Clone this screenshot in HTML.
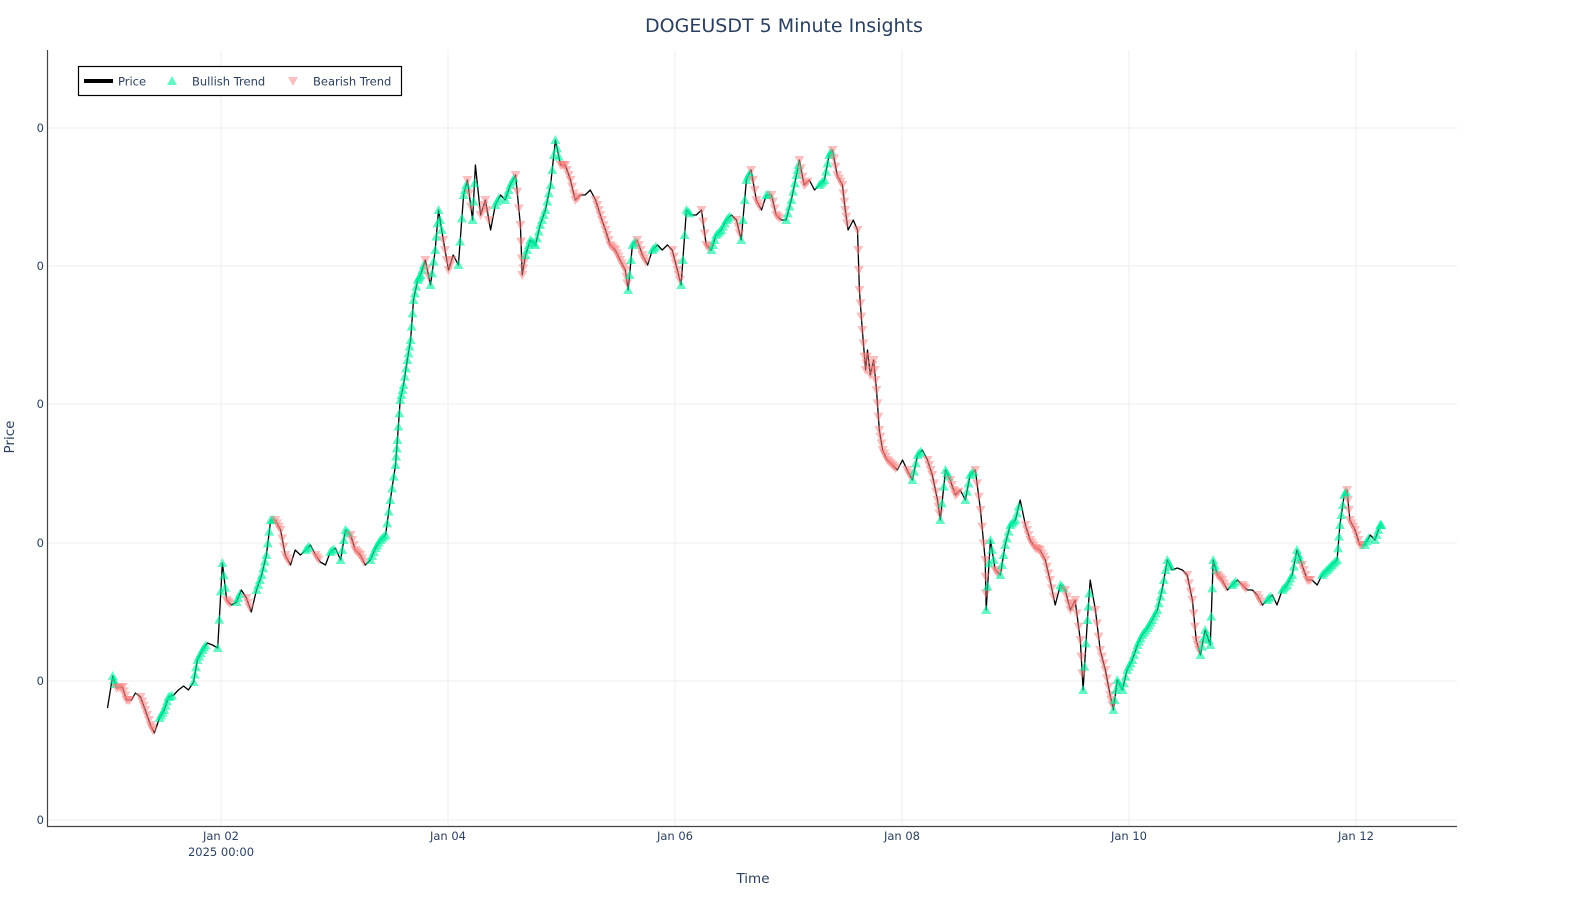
<!DOCTYPE html>
<html><head><meta charset="utf-8">
<style>
html,body{margin:0;padding:0;background:#fff;overflow:hidden;width:1577px;height:900px;}
svg{display:block;font-family:"DejaVu Sans","Liberation Sans",sans-serif;}
</style></head>
<body>
<svg id="chart" width="1577" height="900" viewBox="0 0 1577 900" xmlns="http://www.w3.org/2000/svg">
  <rect x="0" y="0" width="1577" height="900" fill="#fff"/>
  <g id="grid"></g>
  <g id="series"></g>
  <line x1="47.5" y1="50" x2="47.5" y2="826.5" stroke="#444" stroke-width="1.2"/>
  <line x1="47" y1="826.5" x2="1457" y2="826.5" stroke="#444" stroke-width="1.2"/>
  <g id="axes" font-size="11.5" fill="#2a3f5f"></g>
  <text x="784" y="32" text-anchor="middle" font-size="19" fill="#2a3f5f">DOGEUSDT 5 Minute Insights</text>
  <text x="753" y="883" text-anchor="middle" font-size="13.5" fill="#2a3f5f">Time</text>
  <text transform="translate(14,437) rotate(-90)" text-anchor="middle" font-size="13.5" fill="#2a3f5f">Price</text>
  <g>
    <rect x="78.5" y="66.5" width="323" height="29" fill="#fff" stroke="#000" stroke-width="1.2"/>
    <g>
      <line x1="84" y1="81" x2="113" y2="81" stroke="#000" stroke-width="4"/>
      <text x="118" y="85.5" font-size="11.5" fill="#2a3f5f">Price</text>
    </g>
    <g>
      <polygon points="167,85 177,85 172,76" fill="rgba(0,240,160,0.6)"/>
      <text x="192" y="85.5" font-size="11.5" fill="#2a3f5f">Bullish Trend</text>
    </g>
    <g>
      <polygon points="288,77 298,77 293,86" fill="rgba(250,128,128,0.5)"/>
      <text x="313" y="85.5" font-size="11.5" fill="#2a3f5f">Bearish Trend</text>
    </g>
  </g>
</svg>
<script>
// hours since 2025-01-01 00:00
const hours = [0,1.1,1.9,3.2,4.0,5.1,5.9,7.0,8.0,9.1,9.9,11.0,12.0,12.9,14.0,15.0,16.1,17.1,18.2,19.0,20.1,21.1,22.2,23.3,24.3,25.2,26.2,27.3,28.3,29.4,30.4,31.5,32.6,33.6,34.5,35.5,36.6,37.6,38.7,39.7,40.8,41.9,42.9,44.0,45.0,46.1,47.1,48.2,49.3,50.3,51.4,52.4,53.5,54.5,55.6,56.7,57.7,58.8,59.8,60.9,61.3,61.9,62.6,63.4,64.1,64.7,65.6,66.2,67.2,68.3,69.3,70.0,71.0,72.1,73.1,74.2,75.3,76.1,77.2,77.8,78.9,79.9,81.0,82.0,83.1,84.1,85.2,86.3,87.3,87.7,88.4,89.4,90.5,91.5,92.6,93.7,94.7,95.8,96.8,97.9,98.9,100.0,101.0,102.1,103.2,104.2,105.3,106.3,107.4,108.4,109.5,110.1,111.0,112.0,113.1,114.2,115.2,116.3,117.3,118.4,119.4,120.5,121.3,122.4,123.5,124.5,125.6,126.6,127.7,128.7,129.8,130.9,131.9,133.0,134.0,135.1,136.1,137.2,138.3,139.3,140.4,141.4,142.5,143.5,144.6,145.7,146.3,147.3,148.4,149.5,150.5,151.6,152.6,153.3,154.3,155.4,156.0,156.6,157.7,158.6,159.0,159.6,160.3,160.7,161.3,162.0,162.6,163.2,163.9,164.9,166.0,167.0,168.1,169.1,170.2,171.3,172.3,173.4,174.4,175.5,176.1,177.2,178.2,179.3,180.3,181.4,182.4,183.5,184.6,185.6,185.8,186.7,187.7,188.8,189.8,190.9,192.0,193.0,194.1,195.1,196.2,197.2,198.3,199.3,200.4,201.5,202.5,203.6,204.6,205.7,206.3,207.2,207.8,208.9,209.9,211.0,212.0,212.7,213.5,214.6,215.6,216.7,217.8,218.8,219.9,220.9,222.0,223.0,224.1,225.1,226.2,227.3,228.3,229.4,230.2,231.1,232.1,233.2,233.8,234.7,235.7,236.8,237.8,238.9,240.0,241.0,242.1,243.1,244.2,245.2,246.3,247.3,248.4,249.4,250.5,251.5,252.6,253.7,254.7,255.8,256.8,257.9,258.9,260.0,260.6,261.5,262.1,262.7,263.8,264.8,265.9,267.0,268.0,269.1,269.5];
const prices = [.192,.224,.212,.213,.200,.200,.207,.203,.190,.175,.167,.182,.190,.203,.205,.210,.214,.210,.218,.240,.250,.257,.255,.252,.337,.300,.295,.298,.310,.302,.288,.310,.325,.345,.380,.380,.370,.345,.335,.350,.345,.350,.355,.345,.338,.335,.348,.352,.340,.370,.365,.350,.345,.335,.340,.352,.360,.365,.400,.435,.460,.500,.515,.540,.560,.600,.620,.625,.640,.615,.650,.690,.660,.630,.645,.635,.705,.720,.680,.735,.685,.700,.670,.695,.705,.700,.715,.725,.675,.625,.645,.660,.655,.675,.690,.715,.760,.735,.735,.720,.700,.705,.705,.710,.700,.685,.670,.655,.650,.640,.630,.610,.655,.660,.645,.635,.650,.655,.650,.655,.650,.630,.615,.690,.685,.685,.690,.655,.650,.665,.670,.680,.685,.680,.660,.720,.730,.700,.690,.705,.705,.685,.680,.680,.700,.725,.740,.715,.720,.710,.715,.720,.745,.750,.725,.715,.690,.670,.680,.670,.610,.570,.530,.550,.525,.540,.510,.470,.450,.440,.435,.430,.440,.430,.420,.445,.450,.440,.425,.400,.380,.430,.420,.405,.410,.400,.425,.430,.390,.340,.290,.360,.330,.325,.355,.375,.380,.400,.375,.360,.352,.350,.340,.320,.295,.315,.310,.290,.300,.260,.210,.280,.320,.290,.250,.230,.205,.190,.220,.210,.230,.240,.255,.265,.272,.280,.290,.310,.340,.330,.332,.330,.325,.300,.260,.245,.270,.255,.340,.325,.320,.310,.315,.320,.315,.310,.310,.305,.295,.300,.305,.295,.310,.315,.325,.350,.335,.320,.320,.315,.325,.330,.335,.340,.375,.405,.410,.380,.370,.355,.355,.365,.360,.375,.375];
const xTickHours = [24,72,120,168,216,264];
const xTickLabels = ["Jan 02","Jan 04","Jan 06","Jan 08","Jan 10","Jan 12"];
const yTickValues = [0.080,0.219,0.357,0.496,0.634,0.772];
const yTickLabels = ["0","0","0","0","0","0"];

const NS = "http://www.w3.org/2000/svg";
const X0 = 107.5, PX_PER_HOUR = 113.5/24;
function xs(h){ return X0 + h*PX_PER_HOUR; }
function ys(p){ return 900 - p*1000; }
function mk(tag, attrs, parent){
  const e = document.createElementNS(NS, tag);
  for (const k in attrs) e.setAttribute(k, attrs[k]);
  parent.appendChild(e); return e;
}
const grid = document.getElementById('grid');
const axes = document.getElementById('axes');
const series = document.getElementById('series');

yTickValues.forEach((v,i)=>{
  const y = ys(v);
  const gl = mk('line',{x1:48,x2:1457,y1:y,y2:y,stroke:'#eeeeee','stroke-width':1},grid);
  
  
  const t = mk('text',{x:44,y:y+4,'text-anchor':'end'},axes);
  t.textContent = yTickLabels[i];
  
  
});
xTickHours.forEach((h,i)=>{
  const x = xs(h);
  const gl = mk('line',{x1:x,x2:x,y1:50,y2:826,stroke:'#eeeeee','stroke-width':1},grid);
  
  
  const t = mk('text',{x:x,y:840,'text-anchor':'middle'},axes);
  t.textContent = xTickLabels[i];
  
  
  if (i===0){
    const t2 = mk('text',{x:x,y:856,'text-anchor':'middle'},axes);
    t2.textContent = "2025 00:00";
    
    
  }
});

// price line
let d = '';
hours.forEach((h,i)=>{ d += (i?'L':'M') + xs(h).toFixed(1) + ',' + ys(prices[i]).toFixed(1); });
const line = mk('path',{d:d,fill:'none',stroke:'#000','stroke-width':1.3,'stroke-linejoin':'round'},series);



// trend markers derived from price momentum
const mg = mk('g',{},series);


for (let i=2;i<hours.length;i++){
  const ch = prices[i]-prices[i-2];
  let kind = 0;
  if (ch > 0.010) kind = 1; else if (ch < -0.010) kind = -1;
  if (!kind) continue;
  for (let k=0;k<3;k++){
    const f = k/3;
    const p = prices[i-1] + (prices[i]-prices[i-1])*f;
    const y = ys(p);
    const xx = xs(hours[i-1]) + (xs(hours[i])-xs(hours[i-1]))*f;
    let pts;
    if (kind>0) pts = `${xx-5},${y+4} ${xx+5},${y+4} ${xx},${y-5}`;
    else pts = `${xx-5},${y-4} ${xx+5},${y-4} ${xx},${y+5}`;
    const m = mk('polygon',{points:pts,fill: kind>0 ? 'rgba(0,240,160,0.6)' : 'rgba(250,128,128,0.5)'},mg);
    
    
  }
}
</script>
</body></html>
